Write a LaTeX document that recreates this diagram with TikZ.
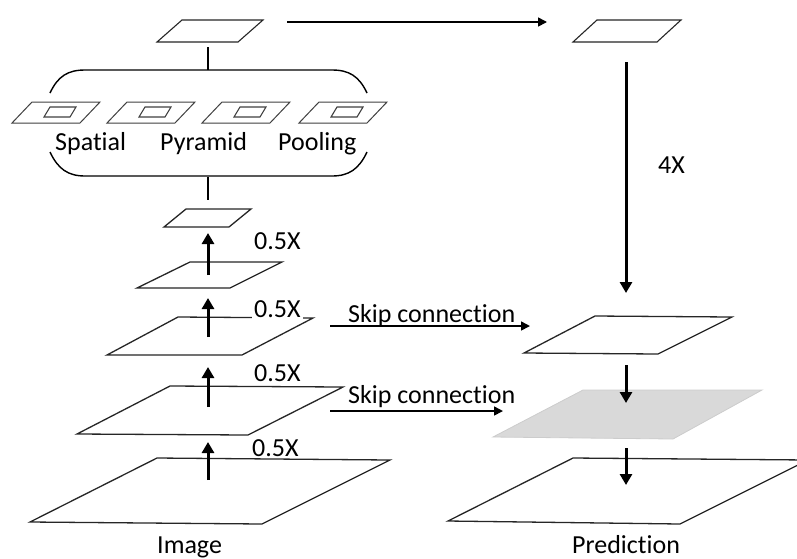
\documentclass[tikz,border=0pt]{standalone}
\usepackage{fontspec}
\setmainfont[Ligatures=NoCommon]{Carlito}
\usetikzlibrary{arrows.meta}
\begin{document}
\begin{tikzpicture}[x=1pt,y=-1pt,
  layer/.style={draw=black!85, line width=1.3pt, line join=miter, fill=white},
  graylayer/.style={draw=black!20, line width=0.8pt, fill=black!15},
  small/.style={draw=black!75, line width=1pt, fill=white},
  thickarrow/.style={line width=3pt, -{Triangle[width=12pt,length=11pt]}},
  thinarrow/.style={line width=1.6pt, -{Triangle[width=9pt,length=9pt]}},
  conn/.style={line width=1.6pt},
  lbl/.style={font=\fontsize{26}{30}\selectfont, inner sep=0pt, anchor=base west},
  scl/.style={lbl, fill=white, inner sep=2pt}
]
\useasboundingbox (0,0) rectangle (797,558);
\clip (0,0) rectangle (797,558);

% ---- top layers
\draw[layer, line width=1.1pt] (157,42) -- (238,42) -- (263,20) -- (182,20) -- cycle;
\draw[layer, line width=1.1pt] (573,42) -- (657,42) -- (681,20) -- (597,20) -- cycle;
\coordinate (tlR) at (287,22);
\coordinate (trL) at (547,22);
\draw[thinarrow] (tlR) -- (trL);

% ---- SPP bracket
\coordinate (tlB) at (208,47);
\coordinate (sppT) at (208,70);
\coordinate (sppB) at (208,177);
\coordinate (aTop) at (208,200);
\draw[conn] (tlB) -- (sppT);
\draw[conn] (sppB) -- (aTop);
\draw[line width=1.4pt] (50,93) .. controls (58,76) and (68,70) .. (85,70) -- (332,70)
   .. controls (349,70) and (359,76) .. (367,93);
\draw[line width=1.4pt] (50,152) .. controls (58,169) and (68,176) .. (85,176) -- (332,176)
   .. controls (349,176) and (359,169) .. (367,152);

\foreach \cx in {56,151,246,343}{
  \draw[small] (\cx-44,123) -- (\cx+24,123) -- (\cx+44,102) -- (\cx-24,102) -- cycle;
  \draw[small, line width=1.1pt] (\cx-12,117) -- (\cx+14,117) -- (\cx+20,107) -- (\cx-6,107) -- cycle;
}
\node[lbl] (sp) at (55,150) {Spatial};
\node[lbl] (py) at (160,150) {Pyramid};
\node[lbl] (po) at (278,150) {Pooling};

% ---- left stack
\draw[layer] (164,227) -- (229,227) -- (251,209) -- (186,209) -- cycle;
\draw[layer] (137,288) -- (230,288) -- (282,262) -- (190,262) -- cycle;
\draw[layer] (107,355) -- (242,355) -- (313,318) -- (178,317) -- cycle;
\draw[layer] (77,434) -- (248,435) -- (343,387) -- (170,386) -- cycle;
\draw[layer] (30,522) -- (262,524) -- (390,460) -- (157,458) -- cycle;

\coordinate (a1s) at (208,275); \coordinate (a1e) at (208,233);
\coordinate (a2s) at (208,337); \coordinate (a2e) at (208,298);
\coordinate (a3s) at (208,407); \coordinate (a3e) at (208,367);
\coordinate (a4s) at (208,480); \coordinate (a4e) at (208,442);
\draw[thickarrow] (a1s) -- (a1e);
\draw[thickarrow] (a2s) -- (a2e);
\draw[thickarrow] (a3s) -- (a3e);
\draw[thickarrow] (a4s) -- (a4e);

\node[scl] (h1) at (252,249) {0.5X};
\node[scl] (h2) at (252,317) {0.5X};
\node[scl] (h3) at (252,381) {0.5X};
\node[lbl] (h4) at (252,456) {0.5X};

\node[lbl] (img) at (157,553) {Image};

% ---- right stack
\draw[layer] (524,353) -- (658,354) -- (732,317) -- (595,316) -- cycle;
\draw[graylayer] (493,437) -- (673,439) -- (762,390) -- (583,390) -- cycle;
\draw[layer] (448,521) -- (680,524) -- (808,460) -- (573,458) -- cycle;

\coordinate (trB) at (626,62); \coordinate (r1T) at (626,293);
\draw[line width=3pt, -{Triangle[width=12pt,length=11pt]}] (trB) -- (r1T);
\node[lbl] (up) at (658,173) {4X};

\coordinate (b1s) at (626,365); \coordinate (b1e) at (626,403);
\coordinate (b2s) at (626,448); \coordinate (b2e) at (626,485);
\draw[thickarrow] (b1s) -- (b1e);
\draw[thickarrow] (b2s) -- (b2e);

\node[lbl] (pred) at (572,553) {Predict\kern0pt ion};

% ---- skip connections
\coordinate (s1s) at (330,326); \coordinate (s1e) at (530,326);
\coordinate (s2s) at (330,411); \coordinate (s2e) at (503,411);
\draw[thinarrow] (s1s) -- (s1e);
\draw[thinarrow] (s2s) -- (s2e);
\node[lbl] (sk1) at (348,322) {Skip connect\kern0pt ion};
\node[lbl] (sk2) at (348,403) {Skip connect\kern0pt ion};
\end{tikzpicture}
\end{document}
